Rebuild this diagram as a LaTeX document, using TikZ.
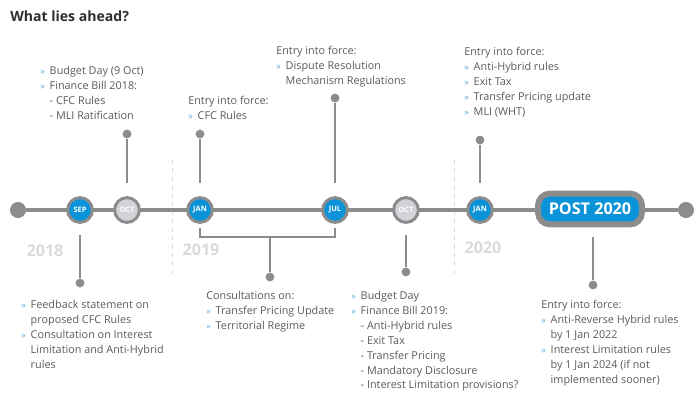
\documentclass[tikz,border=0pt]{standalone}
\usepackage{fontspec}
\setmainfont{Open Sans}
\usetikzlibrary{positioning}
\definecolor{tlgray}{HTML}{8C8C8C}
\definecolor{tlblue}{HTML}{0A93D8}
\definecolor{tltext}{HTML}{5A5A5A}
\definecolor{tlbullet}{HTML}{5AAADC}
\definecolor{tlyear}{HTML}{DADADA}
\definecolor{tlpast}{HTML}{D2D3D8}
\newcommand{\blt}{{\color{tlbullet}\fontsize{6.5}{6.5}\selectfont»}\hspace{3.5pt}}
\newcommand{\ind}{\phantom{\blt}}

\begin{document}
\begin{tikzpicture}[x=0.025cm, y=-0.025cm,
  txt/.style={anchor=north west, inner sep=0pt, align=left, text=tltext, font=\fontsize{7.7}{10.6}\selectfont},
  month/.style={circle, fill=tlblue, draw=tlgray, line width=2.1pt, minimum size=0.62cm, inner sep=0pt, text=white, font=\fontsize{5.3}{5.3}\selectfont\bfseries},
  past/.style={month, fill=tlpast},
  post/.style={rectangle, rounded corners=0.3cm, fill=tlblue, draw=tlgray, line width=4.2pt, minimum width=2.6cm, minimum height=0.77cm, text=white, font=\fontsize{11.5}{12}\selectfont\bfseries},
  enddot/.style={circle, fill=tlgray, inner sep=0pt, minimum size=0.4cm},
  stemdot/.style={circle, fill=tlgray, inner sep=0pt, minimum size=0.22cm},
  stem/.style={draw=tlgray, line width=1.4pt},
  year/.style={text=tlyear, font=\fontsize{11.5}{12}\selectfont\bfseries},
  divider/.style={draw=tlyear, line width=0.7pt, dashed}]
\useasboundingbox (0,0) rectangle (700,410);

\node[anchor=north west, inner sep=0pt, text=black!82, font=\fontsize{10}{12}\selectfont\bfseries] (title) at (10,11) {What lies ahead?};

% years and dividers
\coordinate (div1-top) at (172,160);
\coordinate (div1-bot) at (172,275);
\coordinate (div2-top) at (454,160);
\coordinate (div2-bot) at (454,275);
\draw[divider] (div1-top) -- (div1-bot);
\draw[divider] (div2-top) -- (div2-bot);
\node[year] (y2018) at (45,251) {2018};
\node[year] (y2019) at (201,250) {2019};
\node[year] (y2020) at (483,248) {2020};

% the time line
\node[enddot] (tl-start) at (18,210) {};
\node[enddot] (tl-end) at (686,210) {};
\draw[tlgray, line width=3.5pt] (tl-start) -- (tl-end);
\node[month] (sep) at (80,210) {SEP};
\node[past] (oct1) at (127,210) {OCT};
\node[month] (jan1) at (200,210) {JAN};
\node[month] (jul) at (335,210) {JUL};
\node[past] (oct2) at (406,210) {OCT};
\node[month] (jan2) at (480,210) {JAN};
\node[post] (post) at (590,209) {POST 2020};

% stems
\node[stemdot] (d-oct1) at (127,134) {};
\node[stemdot] (d-jan1) at (200,134) {};
\node[stemdot] (d-jul) at (335,98) {};
\node[stemdot] (d-jan2) at (480,140) {};
\node[stemdot] (d-sep) at (80,283) {};
\node[stemdot] (d-oct2) at (406,272) {};
\node[stemdot] (d-post) at (593,285) {};
\draw[stem, shorten <=0.32cm] (oct1) -- (d-oct1);
\draw[stem, shorten <=0.32cm] (jan1) -- (d-jan1);
\draw[stem, shorten <=0.32cm] (jul) -- (d-jul);
\draw[stem, shorten <=0.32cm] (jan2) -- (d-jan2);
\draw[stem, shorten <=0.28cm] (sep) -- (d-sep);
\draw[stem, shorten <=0.28cm] (oct2) -- (d-oct2);
\draw[stem, shorten <=0.25cm] (d-post |- post.south) -- (d-post);
\coordinate (brk) at (270,237);
\node[stemdot] (d-brk) at (270,277) {};
\draw[stem] ([yshift=-0.1cm]jan1.south) |- (brk) -| ([yshift=-0.1cm]jul.south);
\draw[stem] (brk) -- (d-brk);

% texts
\node[txt] (t-budget18) at (40,66) {\blt Budget Day (9 Oct)\\ \blt Finance Bill 2018:\\ \ind- CFC Rules\\ \ind- MLI Ratification};
\node[txt] (t-jan19) at (188,96) {Entry into force:\\ \blt CFC Rules};
\node[txt] (t-jul19) at (276,46) {Entry into force:\\ \blt Dispute Resolution\\ \ind Mechanism Regulations};
\node[txt] (t-jan20) at (464,47) {Entry into force:\\ \blt Anti-Hybrid rules\\ \blt Exit Tax\\ \blt Transfer Pricing update\\ \blt MLI (WHT)};
\node[txt] (t-sep18) at (21,300) {\blt Feedback statement on\\ \ind proposed CFC Rules\\ \blt Consultation on Interest\\ \ind Limitation and Anti-Hybrid\\ \ind rules};
\node[txt] (t-consult) at (206,291) {Consultations on:\\ \blt Transfer Pricing Update\\ \blt Territorial Regime};
\node[txt] (t-budget19) at (351,291) {\blt Budget Day\\ \blt Finance Bill 2019:\\ \ind- Anti-Hybrid rules\\ \ind- Exit Tax\\ \ind- Transfer Pricing\\ \ind- Mandatory Disclosure\\ \ind- Interest Limitation provisions?};
\node[txt] (t-post) at (541,300) {Entry into force:\\ \blt Anti-Reverse Hybrid rules\\ \ind by 1 Jan 2022\\ \blt Interest Limitation rules\\ \ind by 1 Jan 2024 (if not\\ \ind implemented sooner)};
\end{tikzpicture}
\end{document}
